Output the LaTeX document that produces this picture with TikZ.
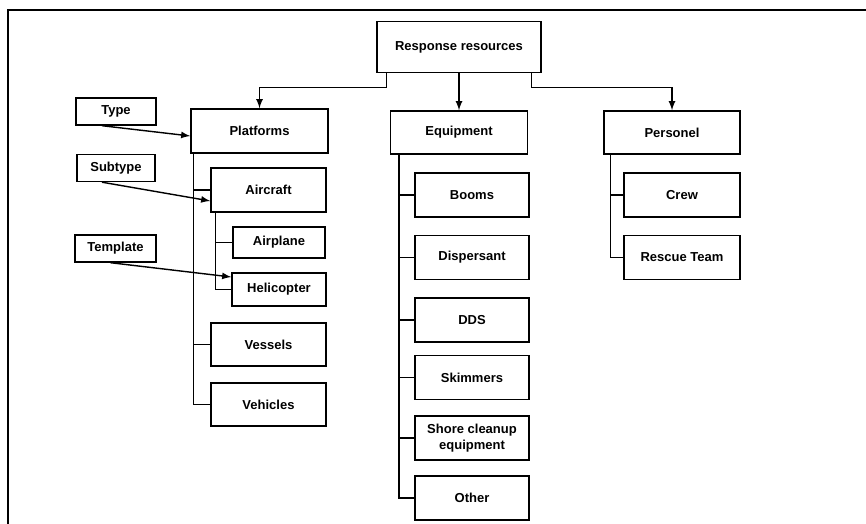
\documentclass[tikz,border=0pt]{standalone}
\usepackage{fontspec}
\setmainfont{Liberation Sans}
\begin{document}
\begin{tikzpicture}[x=0.02cm,y=-0.02cm,line width=0.8pt,>=latex,
  box/.style 2 args={draw,minimum width=#1*0.02cm,minimum height=#2*0.02cm,inner sep=1pt,align=center,font=\fontsize{7.4}{8.9}\selectfont\bfseries}]
\useasboundingbox (0,0) rectangle (866,524);
\draw (8,524)--(8,10)--(866,10);
% top levels
\node[box={164}{51}] (resp) at (459,47) {Response resources};
\node[box={137}{44}] (plat) at (259.5,131) {Platforms};
\node[box={137}{43}] (equip) at (459,132.5) {Equipment};
\node[box={136}{43}] (pers) at (672,132.5) {Personel};
\draw[->] ([xshift=2mm]resp.south west)--++(0,14)-|(plat.north);
\draw[->] (resp.south)--(equip.north);
\draw[->] ([xshift=-2mm]resp.south east)--++(0,14)-|(pers.north);
% platforms
\node[box={115}{44}] (air) at (268.5,190) {Aircraft};
\node[box={92}{31}] (plane) at (279,242.5) {Airplane};
\node[box={94}{33}] (heli) at (279,289.5) {Helicopter};
\node[box={115}{43}] (vess) at (268.5,344.5) {Vessels};
\node[box={115}{43}] (vehi) at (268.5,404.5) {Vehicles};
\foreach \kn in {air,vess,vehi}{\draw ([xshift=0.6mm]plat.south west)|-(\kn.west);}
\foreach \kn in {plane,heli}{\draw ([xshift=1mm]air.south west)|-(\kn.west);}
% equipment
\foreach \ky/\kn/\klb in {195/boom/Booms,257.5/disp/Dispersant,320/dds/DDS,377.5/skim/Skimmers,438/shore/{Shore cleanup\\equipment},498/other/Other}{
\node[box={114}{44}] (\kn) at (472,\ky) {\klb};
\draw ([xshift=1.8mm]equip.south west)|-(\kn.west);}
% personel
\foreach \ky/\kn/\klb in {195/crew/Crew,257.5/resc/Rescue Team}{
\node[box={116}{44}] (\kn) at (682,\ky) {\klb};
\draw ([xshift=1.4mm]pers.south west)|-(\kn.west);}
% levels
\node[box={80}{27}] (type) at (116,111.5) {Type};
\node[box={78}{27}] (sub) at (116,168) {Subtype};
\node[box={81}{27}] (tmpl) at (115.5,248.5) {Template};
\draw[->] ([xshift=-2.8mm]type.south)--([yshift=-1mm]plat.west);
\draw[->] ([xshift=-2.8mm]sub.south)--([yshift=-2.2mm]air.west);
\draw[->] ([xshift=-1mm]tmpl.south)--([yshift=2.5mm]heli.west);
\end{tikzpicture}
\end{document}
